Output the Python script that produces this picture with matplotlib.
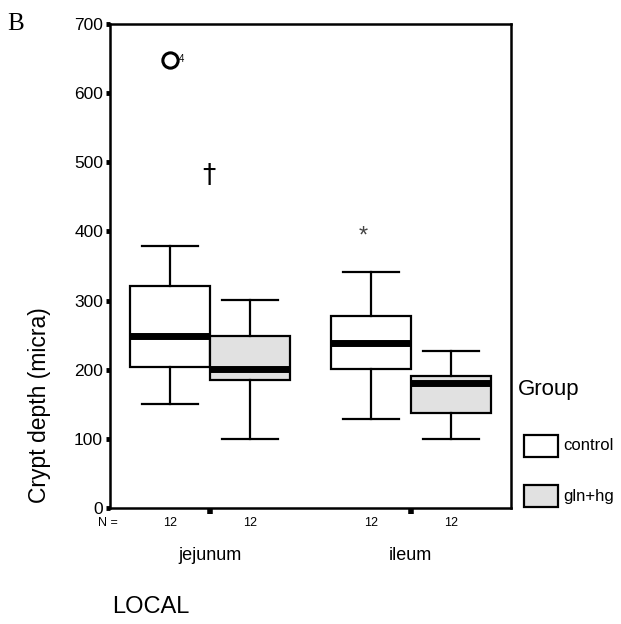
import matplotlib
matplotlib.use("Agg")
import matplotlib.pyplot as plt
from matplotlib.patches import Rectangle

plt.rcParams['font.family'] = ['Liberation Sans', 'DejaVu Sans']

# ---- data ----
sites = ["jejunum", "ileum"]
groups = ["control", "gln+hg"]
n_counts = [12, 12, 12, 12]
whis_lo = [150, 100, 129, 100]
q1 = [204, 185, 201, 137]
medians = [249, 201, 239, 181]
q3 = [321, 249, 277, 191]
whis_hi = [379, 301, 342, 227]
outlier_val = [648]          # circle outlier (case 4), jejunum control
outlier_label = ["4"]
dagger_val = [480]           # dagger, jejunum
extreme_val = [392]          # asterisk, ileum control
yticks = [0, 100, 200, 300, 400, 500, 600, 700]

positions = [0.6, 1.4, 2.6, 3.4]
fills = ["white", "#e1e1e1", "white", "#e1e1e1"]

fig = plt.figure(figsize=(6.21, 6.24), dpi=100)
ax = fig.add_axes([110/621, 1-508/624, 401/621, 484/624])

stats = []
for i in range(4):
    stats.append(dict(med=medians[i], q1=q1[i], q3=q3[i],
                      whislo=whis_lo[i], whishi=whis_hi[i], fliers=[]))
bp = ax.bxp(stats, positions=positions, widths=0.8, patch_artist=True,
            showfliers=False, manage_ticks=False,
            boxprops=dict(linewidth=1.6, edgecolor='black'),
            whiskerprops=dict(linewidth=1.6, color='black'),
            capprops=dict(linewidth=1.6, color='black'),
            medianprops=dict(linewidth=5, color='black', solid_capstyle='butt'),
            capwidths=0.56)
for patch, c in zip(bp['boxes'], fills):
    patch.set_facecolor(c)

# outliers / extremes
ax.plot([positions[0]], outlier_val, marker='o', markersize=11, mfc='none',
        mec='black', mew=2.2, linestyle='none')
ax.text(positions[0] + 0.085, outlier_val[0] + 2, outlier_label[0], fontsize=7,
        va='center', ha='left')
ax.text(0.99, dagger_val[0], "\u2020", fontsize=19, ha='center', va='center',
        family='DejaVu Sans')
ax.text(positions[2] - 0.07, extreme_val[0], "*", fontsize=17, ha='center',
        va='center', color='#444444')

ax.set_xlim(0, 4)
ax.set_ylim(0, 700)
ax.set_yticks(yticks)
ax.set_yticklabels([str(v) for v in yticks], fontsize=12.5)
ax.set_xticks([1.0, 3.0])
ax.set_xticklabels([])
ax.tick_params(axis='y', direction='out', length=3, width=3.5, pad=2)
ax.tick_params(axis='x', direction='out', length=4, width=4)
for s in ax.spines.values():
    s.set_linewidth(1.8)

# N row
fig.text(108/621, 1-523/624, "N =", fontsize=9, ha='center', va='center')
for p, n in zip(positions, n_counts):
    xp = ax.transData.transform((p, 0))[0] / fig.bbox.width
    fig.text(xp, 1-523/624, str(n), fontsize=9, ha='center', va='center')
for c, s in zip([1.0, 3.0], sites):
    xp = ax.transData.transform((c, 0))[0] / fig.bbox.width
    fig.text(xp, 1-555/624, s, fontsize=13, ha='center', va='center')

fig.text(151/621, 1-607/624, "LOCAL", fontsize=17, ha='center', va='center')
fig.text(16/621, 1-24/624, "B", fontsize=18, ha='center', va='center',
         family='Liberation Serif')
fig.text(40/621, 1-405/624, "Crypt depth (micra)", fontsize=16.5,
         rotation=90, ha='center', va='center')

# legend
fig.text(518/621, 1-390/624, "Group", fontsize=16, ha='left', va='center')
for yc, g, c in zip([446, 496], groups, fills):
    fig.patches.append(Rectangle((524/621, 1-(yc+11)/624), 34/621, 22/624,
                                 transform=fig.transFigure, facecolor=c,
                                 edgecolor='black', linewidth=1.6))
    fig.text(563/621, 1-yc/624, g, fontsize=12, ha='left', va='center')

fig.savefig("out.png", dpi=100)
